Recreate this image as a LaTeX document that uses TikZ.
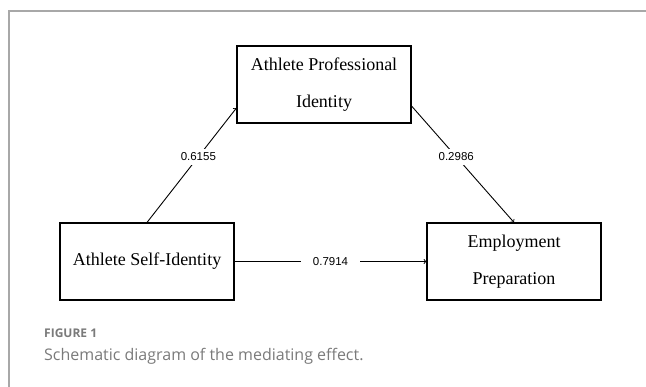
\documentclass[tikz,border=0pt]{standalone}
\usepackage{fontspec}
\setmainfont{Liberation Serif}
\newfontfamily\numfont{Liberation Sans}
\newfontfamily\capfont{Open Sans}
\usepackage{tikz}

\definecolor{framegray}{HTML}{A8A8A8}
\definecolor{capgray}{HTML}{7A7A7A}

\begin{document}
\begin{tikzpicture}[
    x=1pt, y=-1pt,
    box/.style={rectangle, draw, line width=1.1pt, minimum width=174pt, minimum height=77pt, align=center, font=\fontsize{18}{37}\selectfont},
    lbl/.style={fill=white, inner sep=4pt, font=\numfont\fontsize{11.5}{13}\selectfont},
    arrow/.style={->, >=to, line width=0.9pt}
  ]
    \useasboundingbox (0,0) rectangle (646,387);
    \draw[framegray, line width=1.5pt] (9,387) -- (9,11) -- (646,11);

    \node[box] (api) at (324,84.5) {Athlete Professional\\Identity};
    \node[box] (asi) at (147,261.5) {Athlete Self-Identity};
    \node[box] (ep) at (514,261.5) {Employment\\Preparation};

    \draw[arrow] (asi.north) -- node[lbl, pos=0.574] {0.6155} ([yshift=-23.5pt]api.west);
    \draw[arrow] ([yshift=-21.5pt]api.east) -- node[lbl, pos=0.436] {0.2986} (ep.north);
    \draw[arrow] (asi) -- node[lbl, inner xsep=12pt] {0.7914} (ep);

    \node[anchor=base west, text=capgray, font=\capfont\bfseries\fontsize{12}{14}\selectfont, inner sep=0pt] (fig) at (44,338) {FIGURE 1};
    \node[anchor=base west, text=capgray, font=\capfont\fontsize{16}{19}\selectfont, inner sep=0pt] (cap) at (44,361) {Schematic diagram of the mediating effect.};
  \end{tikzpicture}
\end{document}
